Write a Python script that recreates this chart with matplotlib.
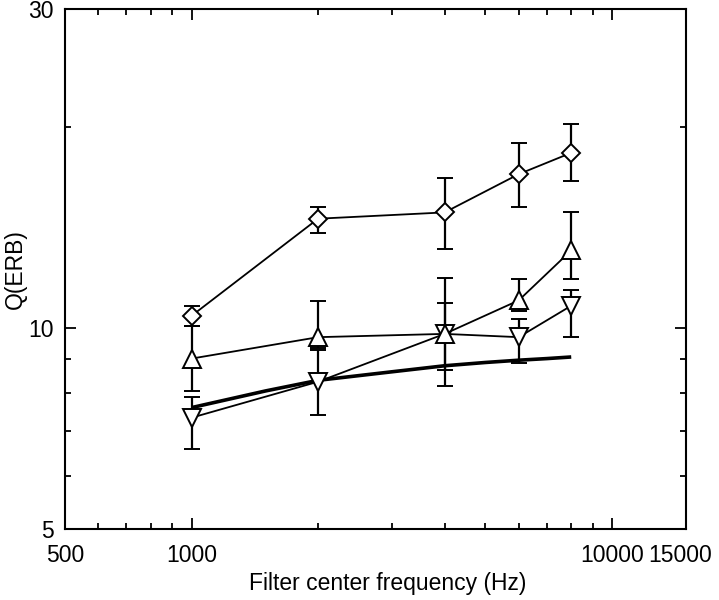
import matplotlib.pyplot as plt
import matplotlib.transforms as mtransforms
from matplotlib.ticker import FixedLocator, NullFormatter

plt.rcParams["font.family"] = ["Liberation Sans", "DejaVu Sans"]

freq = [1000, 2000, 4000, 6000, 8000]

# diamonds
q_diamond = [10.43, 14.58, 14.9, 17.0, 18.3]
lo_diamond = [10.07, 13.9, 13.15, 15.2, 16.6]
hi_diamond = [10.8, 15.2, 16.8, 18.9, 20.2]

# upward triangles
q_up = [9.0, 9.69, 9.8, 11.0, 13.07]
lo_up = [8.05, 9.33, 8.18, 10.6, 11.85]
hi_up = [10.07, 10.97, 10.9, 11.85, 14.9]

# downward triangles
q_down = [7.34, 8.31, 9.8, 9.69, 10.8]
lo_down = [6.6, 7.41, 8.65, 8.86, 9.69]
hi_down = [7.88, 9.27, 11.9, 10.3, 11.4]

# thick reference curve
curve_f = [1000, 1500, 2000, 3000, 4000, 5000, 6000, 7000, 8000]
curve_q = [7.6, 8.05, 8.35, 8.6, 8.78, 8.88, 8.95, 9.0, 9.05]

xticks = [500, 1000, 10000, 15000]
xminor = [600, 700, 800, 900, 2000, 3000, 4000, 5000, 6000, 7000, 8000, 9000]
yticks = [5, 10, 30]
yminor = [6, 7, 8, 9, 20]

fig = plt.figure(figsize=(7.19, 6.0), dpi=100)
ax = fig.add_axes([0.0904, 0.1183, 0.8637, 0.8659])

ax.plot(curve_f, curve_q, color="black", lw=2.6, zorder=2, solid_capstyle="butt")


def series(q, lo, hi, marker, ms):
    err = [[a - b for a, b in zip(q, lo)], [b - a for a, b in zip(q, hi)]]
    ax.errorbar(freq, q, yerr=err, fmt="-", color="black", lw=1.3,
                marker=marker, ms=ms, mfc="white", mec="black", mew=1.4,
                ecolor="black", elinewidth=1.6, capsize=5.5, capthick=1.6,
                zorder=3)


series(q_down, lo_down, hi_down, "v", 13)
series(q_up, lo_up, hi_up, "^", 13)
series(q_diamond, lo_diamond, hi_diamond, "D", 9.5)

ax.set_xscale("log")
ax.set_yscale("log")
ax.set_xlim(500, 15000)
ax.set_ylim(5, 30)

ax.xaxis.set_major_locator(FixedLocator(xticks))
ax.xaxis.set_minor_locator(FixedLocator(xminor))
ax.set_xticklabels([str(t) for t in xticks])
ax.xaxis.set_minor_formatter(NullFormatter())
ax.yaxis.set_major_locator(FixedLocator(yticks))
ax.yaxis.set_minor_locator(FixedLocator(yminor))
ax.set_yticklabels([str(t) for t in yticks])
ax.yaxis.set_minor_formatter(NullFormatter())

ax.tick_params(which="both", direction="in", top=True, right=True,
               width=1.3, labelsize=16.5, color="black")
ax.tick_params(which="major", length=8)
ax.tick_params(which="minor", length=4)
ax.tick_params(axis="x", which="major", pad=11)
ax.tick_params(axis="y", which="major", pad=8)

for s in ax.spines.values():
    s.set_linewidth(1.5)

# nudge the last x label a bit left, as in the original
last = ax.get_xticklabels()[-1]
last.set_transform(last.get_transform()
                   + mtransforms.ScaledTranslation(-6 / 100, 0, fig.dpi_scale_trans))

ax.set_xlabel("Filter center frequency (Hz)", fontsize=16.5)
ax.xaxis.set_label_coords(0.52, -0.083)
ax.set_ylabel("Q(ERB)", fontsize=16.5, labelpad=1)

fig.savefig("out.png", dpi=100)
